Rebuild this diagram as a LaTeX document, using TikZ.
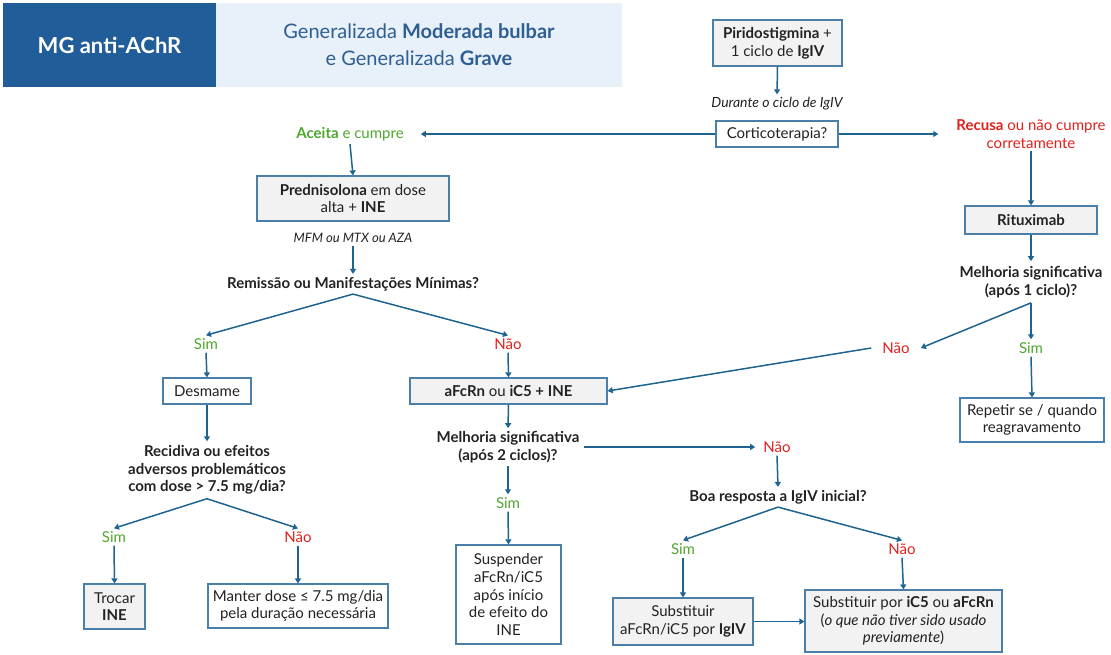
\documentclass[tikz,border=0pt]{standalone}
\usepackage{fontspec}
\setmainfont{Lato}
\usetikzlibrary{arrows.meta}
\definecolor{hdark}{HTML}{215E99}
\definecolor{hlight}{HTML}{E8F1FA}
\definecolor{htext}{HTML}{2E5E92}
\definecolor{arrc}{HTML}{1F6390}
\definecolor{boxc}{HTML}{4A7FAA}
\definecolor{grayf}{HTML}{F2F2F2}
\definecolor{okc}{HTML}{4EA72E}
\definecolor{noc}{HTML}{E0201B}
\definecolor{txt}{HTML}{222222}
\newcommand\myfs{\fontsize{15}{17.6}\selectfont}
\tikzset{
  box/.style={draw=boxc, line width=1.2pt, fill=white, align=center, inner sep=0pt, font=\myfs, text=txt},
  gbox/.style={box, fill=grayf},
  lbl/.style={align=center, inner sep=3pt, font=\myfs, text=txt},
  q/.style={lbl, font=\myfs\bfseries},
  yes/.style={lbl, text=okc},
  no/.style={lbl, text=noc},
  arr/.style={draw=arrc, line width=1.5pt, -{Triangle[length=5pt,width=6pt]}},
}
\begin{document}
\begin{tikzpicture}[x=1pt,y=-1pt]
\useasboundingbox (0,0) rectangle (1111,654);
% header
\node[fill=hdark, minimum width=213pt, minimum height=84pt, inner sep=0pt, text=white, font=\fontsize{22}{26}\selectfont\bfseries] (hd) at (109.5,45) {MG anti-AChR};
\node[fill=hlight, minimum width=406pt, minimum height=84pt, inner sep=0pt, align=center, text=htext, font=\fontsize{20}{27}\selectfont] (hl) at (419,45) {Generalizada \textbf{Moderada bulbar}\\e Generalizada \textbf{Grave}};

% boxes
\node[gbox, minimum width=129pt, minimum height=46pt] (pir) at (777.5,43) {\textbf{Piridostigmina} +\\1 ciclo de \textbf{IgIV}};
\node[lbl, font=\fontsize{14}{16}\selectfont\itshape] (dur) at (777,104) {Durante o ciclo de IgIV};
\node[box, minimum width=122pt, minimum height=26pt] (cort) at (777,134) {Corticoterapia?};
\node[yes, inner xsep=17pt] (acc) at (350,134) {\textbf{Aceita} e cumpre};
\node[no, inner xsep=18pt] (rec) at (1031,134) {\textbf{Recusa} ou não cumpre\\corretamente};
\node[gbox, minimum width=132pt, minimum height=28pt] (rit) at (1031,220) {\textbf{Rituximab}};
\node[q, inner sep=5pt] (mel1) at (1031,282) {Melhoria significativa\\(após 1 ciclo)?};
\node[no, inner xsep=11pt] (nao1) at (896,348) {Não};
\node[yes] (sim1) at (1031,348) {Sim};
\node[box, minimum width=144pt, minimum height=44pt] (rep) at (1032,420) {Repetir se / quando\\reagravamento};

\node[gbox, minimum width=192pt, minimum height=45pt] (pred) at (353,198.5) {\textbf{Prednisolona} em dose\\alta + \textbf{INE}};
\node[lbl, font=\fontsize{13}{15}\selectfont\itshape] (mfm) at (353,238) {MFM ou MTX ou AZA};
\node[q] (remi) at (353,284) {Remissão ou Manifestações Mínimas?};
\node[yes] (sim2) at (206,344) {Sim};
\node[no] (nao2) at (508,344) {Não};
\node[box, minimum width=88pt, minimum height=26pt] (desm) at (207,391) {Desmame};
\node[q, inner sep=4pt] (recid) at (207,470) {Recidiva ou efeitos\\adversos problemáticos\\com dose > 7.5 mg/dia?};
\node[yes] (sim3) at (114,537) {Sim};
\node[no] (nao3) at (298,537) {Não};
\node[gbox, minimum width=61pt, minimum height=45pt] (troc) at (114.5,606.5) {Trocar\\\textbf{INE}};
\node[box, minimum width=180pt, minimum height=44pt] (mant) at (298,606) {Manter dose ≤ 7.5 mg/dia\\pela duração necessária};

\node[gbox, minimum width=197pt, minimum height=26pt] (afc) at (508.5,391) {\textbf{aFcRn} ou \textbf{iC5 + INE}};
\node[q, inner xsep=4pt] (mel2) at (508,447) {Melhoria significativa\\(após 2 ciclos)?};
\node[yes] (sim4) at (508,503) {Sim};
\node[box, minimum width=105pt, minimum height=99pt] (susp) at (508.5,594.5) {Suspender\\aFcRn/iC5\\após início\\de efeito do\\INE};
\node[no, inner xsep=8pt] (nao4) at (777,447) {Não};
\node[q] (boa) at (778,497) {Boa resposta a IgIV inicial?};
\node[yes] (sim5) at (683,549) {Sim};
\node[no] (nao5) at (902,549) {Não};
\node[gbox, minimum width=140pt, minimum height=47pt] (sub1) at (683,621.5) {Substituir\\aFcRn/iC5 por \textbf{IgIV}};
\node[gbox, minimum width=197pt, minimum height=62pt] (sub2) at (903.5,621) {Substituir por \textbf{iC5} ou \textbf{aFcRn}\\(\textit{o que não tiver sido usado}\\\textit{previamente})};

% connectors
\draw[arr] (pir.south) -- (dur.north);
\draw[arr] (cort.west) -- (acc.east);
\draw[arr] (cort.east) -- (rec.west);
\draw[arr] (rec.south) -- (rit.north);
\draw[arr] (rit.south) -- (mel1.north);
\draw[arr] (mel1.south) -- (nao1.east);
\draw[arr] (mel1.south) -- (sim1.north);
\draw[arr] (sim1.south) -- (rep.north);
\draw[arr] (nao1.west) -- (afc.east);

\draw[arr] (acc.south) -- (pred.north);
\draw[arr] (mfm.south) -- (remi.north);
\draw[arr] (remi.south) -- (sim2.north);
\draw[arr] (remi.south) -- (nao2.north);
\draw[arr] (sim2.south) -- (desm.north);
\draw[arr] (desm.south) -- (recid.north);
\draw[arr] (recid.south) -- (sim3.north);
\draw[arr] (recid.south) -- (nao3.north);
\draw[arr] (sim3.south) -- (troc.north);
\draw[arr] (nao3.south) -- (mant.north);

\draw[arr] (nao2.south) -- (afc.north);
\draw[arr] (afc.south) -- (mel2.north);
\draw[arr] (mel2.east) -- (nao4.west);
\draw[arr] (mel2.south) -- (sim4.north);
\draw[arr] (sim4.south) -- (susp.north);
\draw[arr] (nao4.south) -- (boa.north);
\draw[arr] (boa.south) -- (sim5.north);
\draw[arr] (boa.south) -- (nao5.north);
\draw[arr] (sim5.south) -- (sub1.north);
\draw[arr] (nao5.south) -- (sub2.north);
\draw[arr] (sub1.east) -- (sub2.west |- sub1.east);
\end{tikzpicture}
\end{document}
